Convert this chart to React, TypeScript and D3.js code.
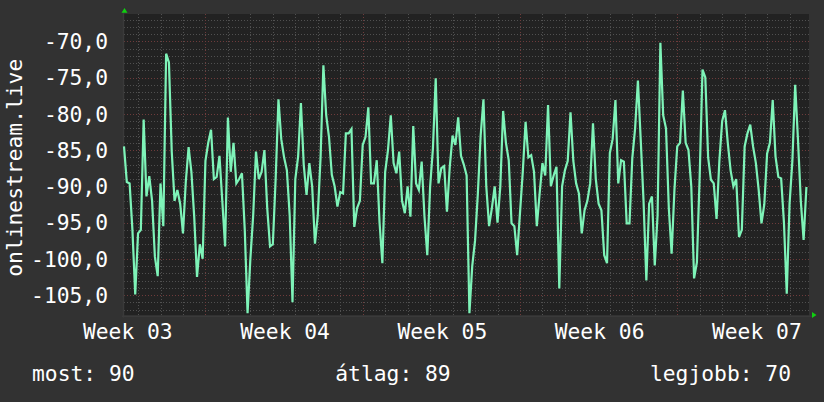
import React from "react";
import * as d3 from "d3";

// ---- data (3-hour samples) ----
const START = Date.UTC(2023, 0, 19, 9, 0);
const STEP_HOURS = 3;
const SPAN_DAYS = 30.49;
const values: number[] = [
  -84.5, -89.4, -89.6, -96, -104.9, -96.5, -96, -80.8, -91.4, -88.6,
  -92, -99.7, -102.4, -89.6, -95.5, -71.7, -72.9, -85.2, -92, -90.5,
  -92.4, -96.5, -89.4, -84.6, -88, -94.2, -102.5, -98, -100, -86.5,
  -84, -82.2, -89, -88.7, -85.8, -92, -98.3, -80.5, -88, -84,
  -89.6, -89, -88.2, -96, -107.5, -100, -94, -85.2, -89, -88,
  -85, -93, -98.3, -98, -89, -78, -83.5, -86, -87.8, -94,
  -106, -89, -85.9, -78.5, -87, -91.2, -86.8, -90, -97.9, -94,
  -86, -73.3, -80.2, -83.2, -88.4, -90, -92.8, -90.8, -91, -82.7,
  -82.7, -82.1, -95.6, -93, -92, -84.3, -83.2, -79.1, -89.6, -89.6,
  -86.4, -95, -100.6, -88, -85, -80.2, -86.8, -88.2, -85.2, -92,
  -93.7, -90, -94.2, -81.7, -89.6, -90.5, -86.6, -94.2, -99.5, -90.1,
  -84.8, -75.1, -89.6, -87.5, -87.2, -93.5, -87.3, -83, -84.3, -80.5,
  -85.8, -87, -88.5, -107.5, -101, -97.5, -91, -83, -78, -90,
  -95.5, -93, -90, -95, -90, -79.6, -84, -86.4, -95.1, -95.5,
  -99.5, -93.7, -88, -81.1, -86, -85.7, -88, -95.5, -91, -86.8,
  -88.5, -78.8, -90, -88.5, -87.3, -104.1, -90, -87.8, -86.5, -79.8,
  -86.5, -89.6, -91, -96.5, -93.3, -92, -89.6, -81.3, -89, -92.4,
  -93.3, -99.5, -100.6, -85.4, -83.5, -78.1, -89.6, -86.4, -86.6, -95.1,
  -95.1, -86.1, -82, -75.4, -83.6, -92, -103, -92.4, -91.4, -100.9,
  -94, -70.2, -80.2, -82, -93, -99.3, -90.5, -84.5, -84, -76.8,
  -84, -85, -90, -102.7, -100.5, -88.5, -73.9, -75, -86, -89.1,
  -89.6, -94.5, -86.5, -81, -79.5, -84, -87.8, -90, -89, -97,
  -96, -84.5, -82.7, -81.5, -84.5, -86.8, -90.5, -95.1, -92.5, -85.5,
  -84, -78.1, -85.9, -88.7, -88.9, -95, -104.8, -92.4, -86.5, -76,
  -83.6, -92, -97.4, -90.1,
];
const yTicks = [-105, -100, -95, -90, -85, -80, -75, -70];
const yTitle = "onlinestream.live";
const legendNames = ["most", "átlag", "legjobb"];
const legendValues = [90, 89, 70];

const FONT = "'DejaVu Sans Mono', monospace";
const FS = 21.3;
const BG = "#323232";
const CANVAS = "#222222";
const MINOR = "#505050";
const MAJOR = "#6e3b3b";
const LINE = "#7ef3b8";
const ARROW = "#10d010";

export default function App() {
  const L = 124, R = 809, T = 14, B = 315.5;
  const t0 = new Date(START);
  const t1 = new Date(START + SPAN_DAYS * 864e5);
  const x = d3.scaleUtc().domain([t0, t1]).range([L, R]);
  const y = d3.scaleLinear().domain([-107.82, -66.23]).range([B, T]);
  const pts = values.map((v, i) => ({ t: new Date(START + i * STEP_HOURS * 36e5), v }));
  const line = d3
    .line<{ t: Date; v: number }>()
    .x((d) => x(d.t))
    .y((d) => y(d.v));

  const days = d3.utcDay.range(t0, t1);
  const mondays = d3.utcMonday.range(t0, t1);
  const isMonday = (d: Date) => d.getUTCDay() === 1;
  const minorY = d3.range(-107, -66, 1).filter((v) => v % 5 !== 0);
  const weekStarts = d3.utcMonday.range(new Date(START - 7 * 864e5), t1);
  const weekLabels = weekStarts
    .map((m) => ({ t: new Date(+m + 3.5 * 864e5), label: "Week " + d3.utcFormat("%V")(m) }))
    .filter((d) => d.t >= t0 && d.t <= t1);
  const fmt = (v: number) => d3.format(".1f")(v).replace(".", ",").replace("−", "-");
  const px = (v: number) => Math.round(v) + 0.5;

  return (
    <svg
      width={824}
      height={402}
      style={{ position: "absolute", left: 0, top: 0, display: "block" }}
      fontFamily={FONT}
    >
      <rect x={0} y={0} width={824} height={402} fill={BG} />
      <rect x={L} y={T} width={R - L} height={B - T} fill={CANVAS} />
      {/* minor grid */}
      <g stroke={MINOR} strokeWidth={1} strokeDasharray="1,2">
        {days.filter((d) => !isMonday(d)).map((d, i) => (
          <line key={"dx" + i} x1={px(x(d))} x2={px(x(d))} y1={T} y2={B} />
        ))}
        {minorY.map((v) => (
          <line key={"hy" + v} x1={L} x2={R} y1={px(y(v))} y2={px(y(v))} />
        ))}
      </g>
      {/* major grid */}
      <g stroke={MAJOR} strokeWidth={1} strokeDasharray="1,2">
        {mondays.map((d, i) => (
          <line key={"mx" + i} x1={px(x(d))} x2={px(x(d))} y1={T} y2={B} />
        ))}
        {yTicks.map((v) => (
          <line key={"my" + v} x1={L} x2={R} y1={px(y(v))} y2={px(y(v))} />
        ))}
      </g>
      {/* axes */}
      <line x1={L - 0.5} x2={L - 0.5} y1={T - 2} y2={B + 2} stroke="#3a3a3a" strokeWidth={1.5} />
      <line x1={L - 2} x2={R + 4} y1={B + 0.75} y2={B + 0.75} stroke="#3a3a3a" strokeWidth={1.5} />
      <path d={`M${L - 2.5},12.7 L${L + 3.5},12.7 L${L + 0.5},8 Z`} fill={ARROW} />
      <path d={`M${R + 3},${B - 3.5} L${R + 3},${B + 2.5} L${R + 7.5},${B - 0.5} Z`} fill={ARROW} />
      {/* data line */}
      <path d={line(pts) || ""} fill="none" stroke={LINE} strokeWidth={2.2} strokeLinejoin="miter" />
      {/* y labels */}
      <g fill="#ffffff" fontSize={FS} textAnchor="end">
        {yTicks.map((v) => (
          <text key={v} x={108} y={y(v) + 7.8}>
            {fmt(v)}
          </text>
        ))}
      </g>
      <text
        transform={`translate(21.5,${(T + B) / 2 + 3}) rotate(-90)`}
        textAnchor="middle"
        fill="#ffffff"
        fontSize={FS}
      >
        {yTitle}
      </text>
      {/* x labels */}
      <g fill="#ffffff" fontSize={FS} textAnchor="middle">
        {weekLabels.map((d) => (
          <text key={d.label} x={x(d.t) + 1} y={338.5}>
            {d.label}
          </text>
        ))}
      </g>
      {/* legend */}
      <g fill="#ffffff" fontSize={FS}>
        <text x={32} y={381} textAnchor="start">{`${legendNames[0]}: ${legendValues[0]}`}</text>
        <text x={393} y={381} textAnchor="middle">{`${legendNames[1]}: ${legendValues[1]}`}</text>
        <text x={791} y={381} textAnchor="end">{`${legendNames[2]}: ${legendValues[2]}`}</text>
      </g>
    </svg>
  );
}
